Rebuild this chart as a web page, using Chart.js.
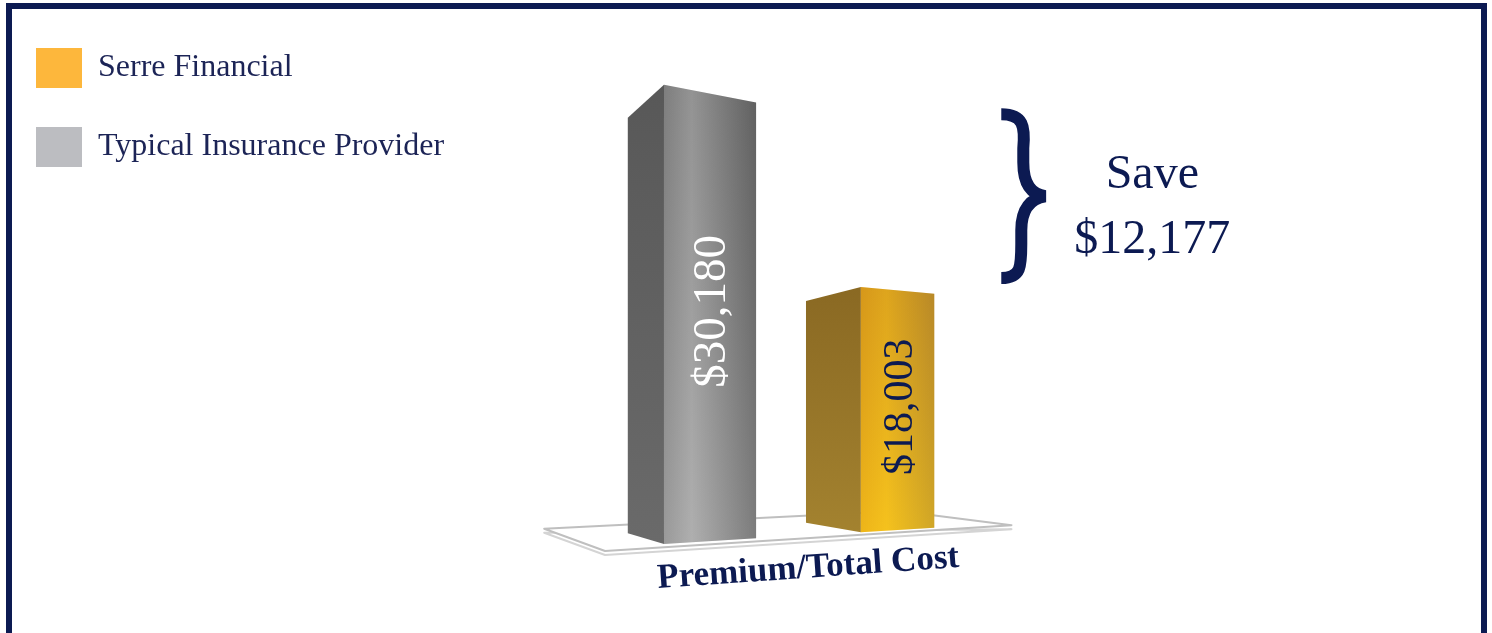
<!DOCTYPE html>
<html>
<head>
<meta charset="utf-8">
<script src="https://cdn.jsdelivr.net/npm/chart.js@4.4.1/dist/chart.umd.min.js"></script>
<style>
html,body{margin:0;padding:0;background:#fff;overflow:hidden;}
#wrap{position:relative;width:1492px;height:633px;overflow:hidden;}
#c{position:absolute;left:-3px;top:0;}
#frame{position:absolute;left:6px;top:3px;width:1469px;height:700px;border:6px solid #0c1a52;border-bottom:none;pointer-events:none;}
</style>
</head>
<body>
<div id="wrap">
  <canvas id="c" width="1492" height="633"></canvas>
  <div id="frame"></div>
</div>
<script>
// ---- data ----
const categories = ['Premium/Total Cost'];
const seriesNames = ['Typical Insurance Provider', 'Serre Financial'];
const typicalValues = [30180];
const serreValues = [18003];
const savingsWord = 'Save';

// ---- style ----
const NAVY = '#0c1a52';
const SERIF = "'Liberation Serif', 'DejaVu Serif', serif";
const money = v => '$' + String(v).replace(/\B(?=(\d{3})+(?!\d))/g, ',');

const STYLE = [
  { left: ['#585858', '#6a6a6a'],
    right: [[0, '#8c8c8c'], [0.3, '#a4a4a4'], [1, '#6b6b6b']],
    shade: ['rgba(0,0,0,0.10)', 'rgba(255,255,255,0.12)'],
    text: '#ffffff' },
  { left: ['#8a6923', '#a3822f'],
    right: [[0, '#eaa91f'], [0.35, '#f3b923'], [1, '#c6972f']],
    shade: ['rgba(110,60,0,0.16)', 'rgba(255,235,0,0.18)'],
    text: NAVY }
];
// perspective of the 3D drawing (relative to category centre / zero line)
const PERSP = { vl: -498, vr: 1680, horizon: -104, depth: 0.095, tilt: -0.059,
                floorDx: -176, floorDy: 14, floorL: 0.189, floorR: 0.219 };

function intersect(p1, p2, p3, p4) {
  const d = (p1.x - p2.x) * (p3.y - p4.y) - (p1.y - p2.y) * (p3.x - p4.x);
  const a = p1.x * p2.y - p1.y * p2.x, b = p3.x * p4.y - p3.y * p4.x;
  return { x: (a * (p3.x - p4.x) - (p1.x - p2.x) * b) / d,
           y: (a * (p3.y - p4.y) - (p1.y - p2.y) * b) / d };
}
function poly(ctx, pts) {
  ctx.beginPath();
  pts.forEach((p, i) => i ? ctx.lineTo(p.x, p.y) : ctx.moveTo(p.x, p.y));
  ctx.closePath();
}

const bars3d = {
  id: 'bars3d',
  beforeDatasetsDraw(chart) {
    const ctx = chart.ctx, xs = chart.scales.x, ys = chart.scales.y;
    const xc = xs.getPixelForValue(0);
    const Z = ys.getPixelForValue(0);
    const xL = xc + PERSP.vl, xR = xc + PERSP.vr, yE = Z + PERSP.horizon;
    const VL = { x: xL, y: yE }, VR = { x: xR, y: yE };

    // floor
    const F = { x: xc + PERSP.floorDx, y: Z + PERSP.floorDy };
    const FL = { x: F.x + PERSP.floorL * (VL.x - F.x), y: F.y + PERSP.floorL * (VL.y - F.y) };
    const FR = { x: F.x + PERSP.floorR * (VR.x - F.x), y: F.y + PERSP.floorR * (VR.y - F.y) };
    const FB = intersect(FL, VR, FR, VL);
    ctx.save();
    ctx.lineJoin = 'round';
    poly(ctx, [FL, F, FR].map(p => ({ x: p.x, y: p.y + 4 })));
    ctx.strokeStyle = '#d4d4d4'; ctx.lineWidth = 2; ctx.stroke();
    poly(ctx, [FL, F, FR, FB]);
    ctx.fillStyle = '#ffffff'; ctx.fill();
    ctx.strokeStyle = '#bfbfbf'; ctx.lineWidth = 2; ctx.stroke();
    ctx.restore();

    chart.data.datasets.forEach((ds, di) => {
      const st = STYLE[di];
      chart.getDatasetMeta(di).data.forEach((el, i) => {
        const { x, y, base, width } = el.getProps(['x', 'y', 'base', 'width'], true);
        const L = x - width / 2, R = x + width / 2;
        const k = PERSP.depth;
        const C = (L - k * xL) / (1 - k);
        const Bc = Z + PERSP.tilt * (C - xc);
        const f = (Bc - yE) / (Z - yE);
        const T = Bc - (base - y) * f;
        const s = C - L, r = R - C;
        const lT = T + (yE - T) * s / (C - xL), lB = Bc + (yE - Bc) * s / (C - xL);
        const rT = T + (yE - T) * r / (xR - C), rB = Bc + (yE - Bc) * r / (xR - C);

        ctx.save();
        // left face
        poly(ctx, [{ x: C, y: T }, { x: L, y: lT }, { x: L, y: lB }, { x: C, y: Bc }]);
        let g = ctx.createLinearGradient(0, T, 0, Bc);
        g.addColorStop(0, st.left[0]); g.addColorStop(1, st.left[1]);
        ctx.fillStyle = g; ctx.fill();
        // right face
        poly(ctx, [{ x: C, y: T }, { x: R, y: rT }, { x: R, y: rB }, { x: C, y: Bc }]);
        g = ctx.createLinearGradient(C, 0, R, 0);
        st.right.forEach(([o, c]) => g.addColorStop(o, c));
        ctx.fillStyle = g; ctx.fill();
        g = ctx.createLinearGradient(0, T, 0, Bc);
        g.addColorStop(0, st.shade[0]); g.addColorStop(1, st.shade[1]);
        ctx.fillStyle = g; ctx.fill();

        // value label
        const cx = (C + R) / 2 + 3, cy = (T + Bc) / 2 - 3;
        ctx.translate(cx, cy);
        ctx.rotate(-Math.PI / 2);
        ctx.fillStyle = st.text;
        ctx.textAlign = 'center'; ctx.textBaseline = 'middle';
        ctx.font = Math.round(44 * f) + 'px ' + SERIF;
        ctx.fillText(money(ds.data[i]), 0, 0);
        ctx.restore();
      });
    });
    return false;
  }
};

const savings = {
  id: 'savings',
  afterDraw(chart) {
    const ctx = chart.ctx, ys = chart.scales.y;
    const hi = typicalValues[0], lo = serreValues[0];
    const yT = ys.getPixelForValue(hi) + 2, yB = ys.getPixelForValue(lo) + 4;
    const goldEl = chart.getDatasetMeta(1).data[0];
    const x0 = goldEl.x + goldEl.width / 2 + 67;
    const mid = (yT + yB) / 2, sx = x0 + 22, tip = x0 + 44;
    ctx.save();
    ctx.strokeStyle = NAVY; ctx.lineWidth = 12; ctx.lineCap = 'butt';
    ctx.lineJoin = 'miter'; ctx.miterLimit = 2;
    ctx.beginPath();
    ctx.moveTo(x0, yT + 6);
    ctx.bezierCurveTo(x0 + 22, yT + 6, sx + 2, yT + 18, sx, yT + 40);
    ctx.lineTo(sx, mid - 34);
    ctx.bezierCurveTo(sx, mid - 12, sx + 8, mid - 2, tip, mid);
    ctx.bezierCurveTo(sx + 8, mid + 2, sx - 2, mid + 12, sx - 2, mid + 34);
    ctx.lineTo(sx - 2, yB - 40);
    ctx.bezierCurveTo(sx - 2, yB - 18, x0 + 20, yB - 6, x0, yB - 6);
    ctx.stroke();

    ctx.fillStyle = NAVY;
    ctx.textAlign = 'center'; ctx.textBaseline = 'alphabetic';
    ctx.font = '48px ' + SERIF;
    const tx = x0 + 151;
    ctx.fillText(savingsWord, tx, mid - 8);
    ctx.fillText(money(hi - lo), tx, mid + 57);
    ctx.restore();
  }
};

new Chart(document.getElementById('c'), {
  type: 'bar',
  data: {
    labels: categories,
    datasets: [
      { label: seriesNames[0], data: typicalValues, backgroundColor: '#BCBDC1', borderWidth: 0,
        categoryPercentage: 0.545, barPercentage: 0.72 },
      { label: seriesNames[1], data: serreValues, backgroundColor: '#FDB73C', borderWidth: 0,
        categoryPercentage: 0.545, barPercentage: 0.72 }
    ]
  },
  options: {
    responsive: false,
    animation: false,
    layout: { padding: { top: 9, left: 0, right: 381, bottom: 0 } },
    scales: {
      x: {
        grid: { display: false, drawTicks: false },
        border: { display: false },
        ticks: { font: { family: SERIF, size: 35, weight: 'bold' }, color: NAVY,
                 minRotation: 4, maxRotation: 4, labelOffset: 178, padding: 0, autoSkip: false },
        afterFit(scale) { scale.height = 96; }
      },
      y: { display: false, min: 0, max: 37000 }
    },
    plugins: {
      legend: {
        position: 'left', align: 'start', reverse: true,
        labels: { boxWidth: 46, boxHeight: 40, padding: 39, color: '#1c2456',
                  font: { family: SERIF, size: 32 } }
      },
      tooltip: { enabled: false }
    }
  },
  plugins: [bars3d, savings]
});
</script>
</body>
</html>
